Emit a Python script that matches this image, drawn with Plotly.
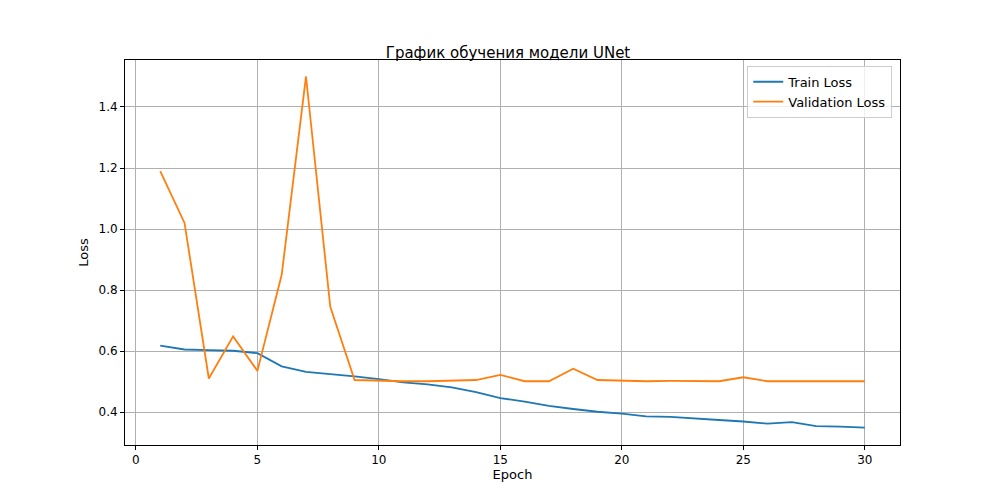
import plotly.graph_objects as go

epochs = list(range(1, 31))
train_loss = [0.618, 0.605, 0.603, 0.601, 0.593, 0.550, 0.532, 0.525, 0.517, 0.508,
              0.497, 0.491, 0.481, 0.465, 0.446, 0.434, 0.420, 0.410, 0.401, 0.395,
              0.386, 0.384, 0.378, 0.374, 0.369, 0.362, 0.367, 0.354, 0.352, 0.349]
val_loss = [1.19, 1.02, 0.510, 0.648, 0.535, 0.850, 1.500, 0.745, 0.505, 0.502,
            0.501, 0.501, 0.502, 0.505, 0.522, 0.501, 0.501, 0.542, 0.505, 0.503,
            0.501, 0.502, 0.501, 0.501, 0.514, 0.501, 0.501, 0.501, 0.501, 0.501]

fig = go.Figure()
fig.add_trace(go.Scatter(x=epochs, y=train_loss, mode='lines', name='Train Loss',
                         line=dict(color='#1f77b4', width=1.8)))
fig.add_trace(go.Scatter(x=epochs, y=val_loss, mode='lines', name='Validation Loss',
                         line=dict(color='#ff7f0e', width=1.8)))

axis = dict(showline=True, mirror=True, linecolor='black', linewidth=1,
            showgrid=True, gridcolor='#b0b0b0', gridwidth=1, zeroline=False,
            ticks='outside', ticklen=4, tickcolor='black',
            tickfont=dict(size=12))
fig.update_layout(
    width=1000, height=500,
    margin=dict(l=117, r=108, t=52, b=63),
    paper_bgcolor='white', plot_bgcolor='white',
    font=dict(family='DejaVu Sans', size=13, color='black'),
    title=dict(text='График обучения модели UNet', x=0.5, xanchor='center',
               y=0.91, yanchor='middle', font=dict(size=15)),
    xaxis=dict(axis, range=[-0.45, 31.45], tickvals=[0, 5, 10, 15, 20, 25, 30],
               title=dict(text='Epoch', standoff=2, font=dict(size=13))),
    yaxis=dict(axis, range=[0.292, 1.554], tickvals=[0.4, 0.6, 0.8, 1.0, 1.2, 1.4],
               tickformat='.1f', title=dict(text='Loss', standoff=6, font=dict(size=13))),
    legend=dict(x=0.99, y=0.985, xanchor='right', yanchor='top',
                font=dict(size=13),
                bordercolor='#cccccc', borderwidth=1, bgcolor='rgba(255,255,255,0.8)'),
)

fig.write_html("out.html")
